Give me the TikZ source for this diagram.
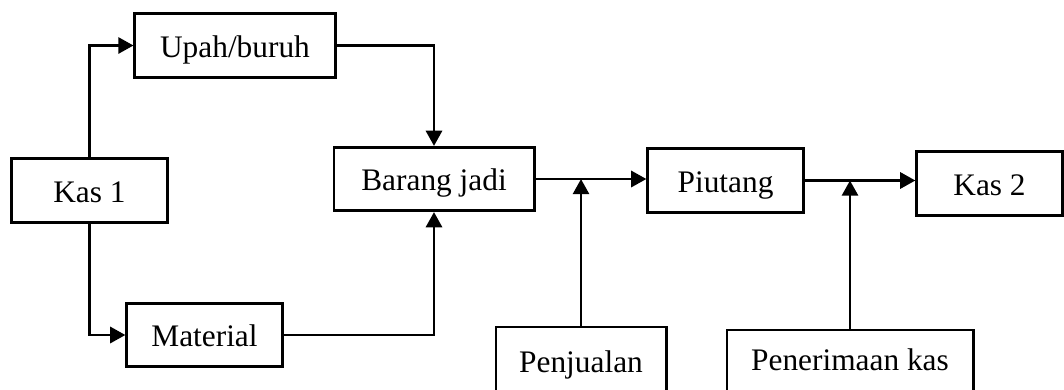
\documentclass[tikz,border=0pt]{standalone}
\usepackage{tikz}
\usetikzlibrary{arrows.meta,positioning}
\usepackage{fontspec}
\setmainfont{Liberation Serif}
\tikzset{
  flowbox/.style={draw=black,line width=2.1pt,fill=white,
    minimum height=1.58cm,align=center,inner sep=0pt,
    text height=19pt,text depth=2pt,
    font=\fontsize{22.3}{26}\selectfont},
  flowarrow/.style={-{Triangle[length=3.8mm,width=4mm]},
    line width=2.1pt,draw=black},
}

\begin{document}
\begin{tikzpicture}[x=0.025cm,y=-0.025cm]
  \useasboundingbox (0,0) rectangle (1064,389);
  \node[flowbox,minimum width=3.88cm] (kas1) at (89.5,190.5) {Kas 1};
  \node[flowbox,minimum width=5cm] (upah) at (235,45.5) {Upah/buruh};
  \node[flowbox,minimum width=3.88cm] (material) at (204.5,335) {Material};
  \node[flowbox,minimum width=5cm] (barang) at (434,179) {Barang jadi};
  \node[flowbox,minimum width=3.88cm] (piutang) at (725.5,180.5) {Piutang};
  \node[flowbox,minimum width=3.63cm] (kas2) at (989.5,183.5) {Kas 2};
  \node[flowbox,minimum width=4.25cm,minimum height=1.7cm] (penjualan) at (581,361) {Penjualan};
  \node[flowbox,minimum width=6.15cm,minimum height=1.6cm,text depth=7.6pt] (penerimaan) at (850,362) {Penerimaan kas};
  \draw[flowarrow] (kas1.north) |- (upah.west);
  \draw[flowarrow] (kas1.south) |- (material.west);
  \draw[flowarrow] (upah.east) -| (barang.north);
  \draw[flowarrow] (material.east) -| (barang.south);
  \draw[flowarrow] (barang.east) -- (barang.east -| piutang.west);
  \draw[flowarrow] (penjualan.north) -- (penjualan.north |- barang.east);
  \draw[flowarrow] (piutang.east) -- (piutang.east -| kas2.west);
  \draw[flowarrow] (penerimaan.north) -- (penerimaan.north |- piutang.east);
\end{tikzpicture}
\end{document}
